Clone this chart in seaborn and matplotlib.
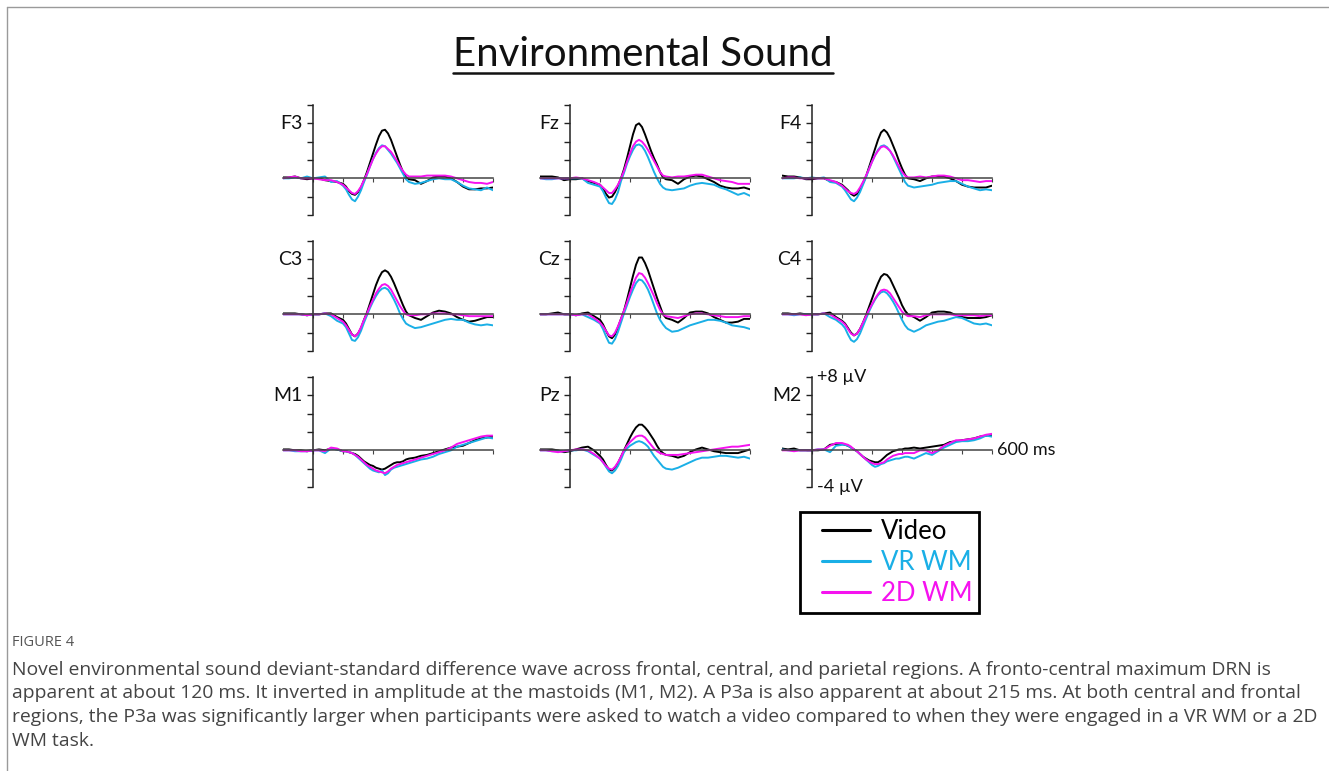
import pandas as pd
import matplotlib
matplotlib.use("Agg")
import matplotlib.pyplot as plt
from matplotlib.lines import Line2D
from matplotlib.patches import Rectangle
import seaborn as sns

# Time axis (ms): 20 ms steps, 10 ms steps around the DRN / P3a peaks
times = list(range(-100, 101, 20)) + list(range(110, 321, 10)) + list(range(340, 601, 20))
conditions = ["Video", "VR WM", "2D WM"]
colors = ["#000000", "#1aafe6", "#f512ef"]
channels = ["F3", "Fz", "F4", "C3", "Cz", "C4", "M1", "Pz", "M2"]

# Difference waves (µV), one list per channel / condition
f3_video = [0.1, 0.1, 0.2, 0.0, -0.1, 0.0, 0.0, -0.2, -0.3, -0.4, -0.6,
            -0.9, -1.4, -1.7, -1.8, -1.5, -1.0, -0.2, 0.7, 1.7, 2.7, 3.7, 4.6, 5.2, 5.3, 4.9, 4.2, 3.3, 2.4, 1.5, 0.7, 0.1, -0.1,
            -0.2, -0.6, -0.3, 0.1, 0.2, 0.2, 0.0, -0.4, -0.9, -1.2, -1.2, -1.1, -1.1, -1.0]
f3_vr = [0.0, 0.0, 0.1, 0.0, 0.2, 0.0, 0.1, 0.2, -0.4, -0.3, -0.8,
         -1.2, -1.8, -2.3, -2.5, -2.0, -1.3, -0.4, 0.4, 1.3, 2.1, 2.8, 3.3, 3.6, 3.5, 3.1, 2.7, 2.2, 1.7, 1.1, 0.5, -0.1, -0.4,
         -0.6, -0.5, -0.3, -0.1, 0.0, -0.1, -0.1, -0.4, -0.8, -1.1, -1.2, -1.3, -1.0, -1.3]
f3_2d = [0.0, 0.1, 0.2, 0.0, 0.0, 0.0, -0.1, -0.2, -0.2, -0.4, -0.7,
         -1.0, -1.3, -1.6, -1.7, -1.4, -0.9, -0.2, 0.5, 1.3, 2.1, 2.7, 3.2, 3.5, 3.5, 3.2, 2.9, 2.4, 1.9, 1.3, 0.8, 0.4, 0.2,
         0.2, 0.2, 0.3, 0.3, 0.3, 0.3, 0.2, 0.0, -0.2, -0.4, -0.5, -0.5, -0.6, -0.4]

fz_video = [0.2, 0.2, 0.2, 0.1, -0.2, -0.1, -0.1, 0.0, -0.3, -0.5, -0.7,
            -1.1, -1.7, -2.1, -2.0, -1.5, -0.8, 0.0, 1.0, 2.2, 3.5, 4.8, 5.8, 6.0, 5.6, 4.8, 3.9, 3.0, 2.2, 1.5, 0.7, 0.1, -0.1,
            -0.2, -0.6, -0.1, 0.2, 0.3, 0.2, -0.1, -0.4, -0.8, -1.0, -1.1, -1.1, -1.0, -1.2]
fz_vr = [0.0, -0.1, -0.1, 0.0, 0.0, 0.0, 0.0, 0.0, -0.5, -0.7, -0.9,
         -1.4, -2.1, -2.7, -2.8, -2.3, -1.5, -0.3, 0.6, 1.6, 2.4, 3.1, 3.6, 3.7, 3.5, 3.0, 2.3, 1.5, 0.7, 0.0, -0.6, -1.0, -1.2,
         -1.3, -1.2, -1.1, -0.8, -0.6, -0.5, -0.6, -0.7, -1.0, -1.2, -1.5, -1.8, -1.6, -1.9]
fz_2d = [0.0, 0.0, 0.0, 0.0, 0.0, 0.0, 0.1, 0.0, -0.2, -0.4, -0.7,
         -1.0, -1.3, -1.6, -1.6, -1.2, -0.7, 0.0, 0.8, 1.8, 2.7, 3.5, 4.0, 4.2, 4.0, 3.6, 3.1, 2.5, 1.9, 1.3, 0.7, 0.3, 0.2,
         0.1, 0.2, 0.2, 0.3, 0.4, 0.4, 0.2, 0.0, -0.2, -0.3, -0.4, -0.6, -0.6, -0.6]

f4_video = [0.3, 0.2, 0.2, 0.1, -0.1, -0.1, 0.0, 0.0, -0.3, -0.4, -0.7,
            -1.0, -1.3, -1.7, -1.9, -1.7, -1.2, -0.5, 0.2, 1.2, 2.2, 3.2, 4.2, 5.0, 5.3, 5.0, 4.4, 3.6, 2.8, 1.9, 1.1, 0.4, 0.0,
            -0.1, -0.3, 0.0, 0.2, 0.2, 0.2, 0.0, -0.3, -0.7, -0.9, -1.0, -1.0, -1.0, -0.8]
f4_vr = [0.0, 0.0, 0.0, 0.1, 0.0, 0.1, 0.0, 0.1, -0.4, -0.5, -0.9,
         -1.3, -1.8, -2.3, -2.5, -2.1, -1.5, -0.7, 0.1, 1.0, 1.8, 2.5, 3.1, 3.5, 3.6, 3.4, 3.0, 2.4, 1.7, 1.0, 0.3, -0.4, -0.8,
         -1.0, -0.9, -0.8, -0.7, -0.5, -0.4, -0.3, -0.3, -0.6, -0.9, -1.1, -1.3, -1.2, -1.3]
f4_2d = [0.0, 0.1, 0.1, 0.0, 0.0, 0.0, 0.0, 0.0, -0.2, -0.4, -0.8,
         -1.1, -1.4, -1.6, -1.7, -1.5, -1.0, -0.4, 0.3, 1.0, 1.8, 2.5, 3.0, 3.4, 3.5, 3.3, 3.0, 2.5, 1.9, 1.3, 0.7, 0.3, 0.1,
         0.1, 0.2, 0.1, 0.2, 0.3, 0.3, 0.2, 0.0, -0.2, -0.2, -0.3, -0.4, -0.3, -0.3]

c3_video = [0.1, 0.1, 0.1, 0.0, -0.1, 0.0, 0.0, 0.1, 0.1, -0.3, -0.6,
            -1.0, -1.6, -2.2, -2.4, -2.1, -1.5, -0.6, 0.2, 1.2, 2.2, 3.2, 4.0, 4.6, 4.8, 4.6, 4.1, 3.4, 2.6, 1.8, 1.0, 0.3, -0.1,
            -0.4, -0.6, -0.2, 0.2, 0.4, 0.3, 0.1, -0.3, -0.6, -0.8, -0.7, -0.5, -0.3, -0.3]
c3_vr = [0.0, 0.0, 0.0, 0.0, -0.1, 0.0, 0.0, 0.1, -0.2, -0.7, -1.0,
         -1.4, -2.1, -2.8, -2.9, -2.5, -1.8, -0.9, -0.1, 0.7, 1.4, 2.0, 2.5, 2.8, 2.9, 2.7, 2.2, 1.6, 0.9, 0.1, -0.5, -1.0, -1.2,
         -1.5, -1.4, -1.2, -1.0, -0.8, -0.6, -0.5, -0.6, -0.6, -0.9, -1.1, -1.2, -1.1, -1.2]
c3_2d = [0.0, 0.0, 0.0, 0.0, -0.1, 0.0, 0.0, 0.1, 0.0, -0.4, -0.8,
         -1.2, -1.7, -2.2, -2.4, -2.1, -1.4, -0.6, 0.1, 0.9, 1.6, 2.3, 2.8, 3.2, 3.3, 3.1, 2.7, 2.1, 1.5, 0.9, 0.4, 0.0, -0.1,
         -0.1, 0.0, 0.0, 0.1, 0.1, 0.1, 0.0, 0.0, -0.1, -0.2, -0.2, -0.2, -0.2, -0.2]

cz_video = [0.0, 0.0, 0.1, 0.2, 0.0, 0.0, -0.1, 0.1, 0.2, -0.2, -0.6,
            -1.1, -1.8, -2.4, -2.6, -2.2, -1.4, -0.5, 0.4, 1.6, 2.9, 4.2, 5.4, 6.2, 6.2, 5.6, 4.8, 3.8, 2.8, 1.8, 0.9, 0.0, -0.4,
            -0.6, -0.9, -0.4, 0.2, 0.3, 0.3, 0.1, -0.3, -0.6, -0.9, -0.9, -0.8, -0.5, -0.5]
cz_vr = [0.0, 0.0, 0.0, 0.0, 0.0, 0.0, -0.1, 0.0, -0.3, -0.6, -1.0,
         -1.6, -2.4, -3.1, -3.2, -2.7, -1.9, -0.9, 0.1, 1.0, 1.9, 2.7, 3.4, 3.8, 3.7, 3.3, 2.7, 1.9, 1.0, 0.1, -0.6, -1.1, -1.5,
         -1.9, -1.8, -1.5, -1.2, -1.0, -0.8, -0.6, -0.6, -0.7, -0.9, -1.2, -1.3, -1.4, -1.6]
cz_2d = [0.0, 0.0, 0.0, 0.0, 0.0, 0.0, -0.1, 0.0, 0.0, -0.4, -0.9,
         -1.3, -1.8, -2.3, -2.4, -2.0, -1.3, -0.5, 0.4, 1.3, 2.3, 3.2, 4.0, 4.5, 4.4, 4.0, 3.4, 2.7, 2.0, 1.2, 0.5, 0.0, -0.2,
         -0.3, -0.4, -0.2, 0.0, 0.1, 0.1, 0.0, -0.1, -0.2, -0.3, -0.3, -0.3, -0.2, -0.2]

c4_video = [0.1, 0.1, 0.0, 0.1, 0.0, 0.0, 0.0, 0.1, 0.2, -0.3, -0.7,
            -1.0, -1.5, -2.0, -2.3, -2.1, -1.6, -0.9, -0.1, 0.8, 1.7, 2.6, 3.4, 4.1, 4.4, 4.3, 3.9, 3.2, 2.5, 1.8, 1.0, 0.4, 0.0,
            -0.3, -0.7, -0.3, 0.2, 0.3, 0.3, 0.2, -0.1, -0.3, -0.4, -0.4, -0.4, -0.3, -0.1]
c4_vr = [0.0, 0.0, -0.1, 0.0, 0.0, 0.0, 0.0, 0.1, -0.3, -0.6, -1.1,
         -1.5, -2.2, -2.8, -3.0, -2.7, -2.1, -1.3, -0.5, 0.3, 1.0, 1.6, 2.1, 2.4, 2.5, 2.3, 1.9, 1.4, 0.8, 0.1, -0.6, -1.2, -1.6,
         -1.9, -1.6, -1.2, -1.0, -0.8, -0.7, -0.5, -0.3, -0.4, -0.7, -1.0, -1.1, -1.0, -1.2]
c4_2d = [0.0, 0.0, 0.0, 0.0, -0.1, 0.0, 0.0, 0.1, 0.0, -0.4, -0.8,
         -1.1, -1.6, -2.1, -2.3, -2.1, -1.6, -0.9, -0.2, 0.5, 1.1, 1.7, 2.2, 2.6, 2.7, 2.6, 2.3, 1.8, 1.3, 0.8, 0.3, 0.0, -0.2,
         -0.2, -0.3, -0.1, 0.0, 0.0, 0.0, 0.0, -0.1, -0.1, -0.1, -0.1, -0.2, -0.1, -0.1]

m1_video = [0.1, 0.1, 0.0, 0.0, -0.1, 0.0, 0.1, 0.0, 0.2, 0.1, -0.1,
            -0.1, -0.2, -0.3, -0.4, -0.6, -0.9, -1.2, -1.4, -1.6, -1.7, -1.9, -2.0, -2.1, -2.0, -1.8, -1.6, -1.4, -1.3, -1.3, -1.2, -1.0, -0.9,
            -0.8, -0.6, -0.5, -0.3, -0.1, 0.1, 0.3, 0.4, 0.5, 0.8, 1.1, 1.3, 1.4, 1.5]
m1_vr = [0.0, 0.0, -0.1, -0.1, -0.1, 0.0, 0.0, -0.3, 0.2, 0.1, -0.1,
         -0.1, -0.2, -0.3, -0.5, -0.8, -1.1, -1.4, -1.7, -2.0, -2.2, -2.3, -2.4, -2.2, -2.7, -2.5, -2.1, -1.9, -1.8, -1.7, -1.6, -1.5, -1.4,
         -1.2, -1.0, -0.9, -0.7, -0.4, -0.2, 0.0, 0.4, 0.6, 0.8, 1.0, 1.2, 1.4, 1.3]
m1_2d = [0.0, 0.0, 0.0, -0.1, -0.1, 0.0, 0.0, -0.1, 0.3, 0.2, -0.1,
         -0.1, -0.2, -0.3, -0.5, -0.7, -1.0, -1.3, -1.6, -1.8, -2.0, -2.2, -2.3, -2.4, -2.5, -2.3, -2.0, -1.8, -1.6, -1.5, -1.4, -1.3, -1.2,
         -1.0, -0.8, -0.6, -0.4, -0.2, 0.0, 0.3, 0.7, 0.9, 1.1, 1.3, 1.5, 1.6, 1.6]

pz_video = [0.1, 0.1, 0.1, 0.0, -0.2, -0.1, 0.1, 0.3, 0.4, 0.0, -0.6,
            -1.0, -1.6, -2.1, -2.2, -1.9, -1.4, -0.7, 0.0, 0.7, 1.4, 2.0, 2.5, 2.8, 2.8, 2.5, 2.1, 1.6, 1.1, 0.5, 0.0, -0.3, -0.5,
            -0.6, -0.8, -0.6, -0.2, 0.1, 0.3, 0.1, -0.1, -0.2, -0.3, -0.3, -0.3, -0.1, 0.1]
pz_vr = [0.0, 0.0, -0.1, -0.1, -0.1, 0.0, 0.0, 0.1, -0.1, -0.5, -0.9,
         -1.3, -1.8, -2.3, -2.5, -2.2, -1.7, -1.0, -0.2, 0.2, 0.5, 0.7, 0.9, 1.0, 0.9, 0.7, 0.4, -0.1, -0.6, -1.0, -1.4, -1.8, -2.0,
         -2.1, -1.9, -1.6, -1.3, -1.0, -0.8, -0.8, -0.7, -0.6, -0.6, -0.7, -0.8, -0.7, -0.9]
pz_2d = [0.0, 0.0, -0.1, -0.2, -0.1, 0.0, 0.1, 0.1, 0.0, -0.4, -0.9,
         -1.3, -1.7, -2.0, -2.1, -1.8, -1.3, -0.7, 0.0, 0.5, 0.9, 1.2, 1.5, 1.6, 1.6, 1.4, 1.0, 0.6, 0.2, -0.1, -0.3, -0.4, -0.5,
         -0.5, -0.5, -0.4, -0.3, -0.2, -0.1, 0.0, 0.1, 0.2, 0.3, 0.4, 0.4, 0.5, 0.6]

m2_video = [0.2, 0.1, 0.2, 0.0, 0.0, 0.0, 0.0, 0.1, 0.6, 0.7, 0.7,
            0.6, 0.5, 0.3, 0.1, -0.1, -0.4, -0.7, -0.9, -1.1, -1.2, -1.3, -1.3, -1.1, -0.8, -0.5, -0.3, -0.1, 0.0, 0.1, 0.1, 0.2, 0.2,
            0.3, 0.2, 0.3, 0.4, 0.5, 0.6, 0.9, 1.0, 1.1, 1.2, 1.3, 1.5, 1.6, 1.7]
m2_vr = [0.1, 0.0, 0.0, 0.0, 0.0, 0.0, 0.1, 0.1, -0.2, 0.5, 0.6,
         0.6, 0.5, 0.3, 0.1, -0.1, -0.4, -0.7, -1.0, -1.3, -1.6, -1.8, -1.7, -1.5, -1.4, -1.2, -1.1, -1.0, -0.9, -0.9, -0.8, -0.7, -0.7,
         -0.9, -0.6, -0.3, -0.5, -0.1, 0.3, 0.6, 0.9, 1.0, 1.0, 1.1, 1.3, 1.6, 1.5]
m2_2d = [0.0, 0.0, -0.1, 0.0, 0.0, 0.0, 0.1, 0.1, 0.5, 0.8, 0.8,
         0.7, 0.6, 0.4, 0.1, -0.1, -0.4, -0.7, -1.0, -1.2, -1.4, -1.5, -1.5, -1.4, -1.3, -1.0, -0.8, -0.6, -0.5, -0.4, -0.4, -0.3, -0.3,
         -0.3, 0.0, 0.0, -0.3, 0.0, 0.5, 0.8, 1.1, 1.1, 1.2, 1.3, 1.5, 1.7, 1.8]

waves = {
    "F3": [f3_video, f3_vr, f3_2d], "Fz": [fz_video, fz_vr, fz_2d], "F4": [f4_video, f4_vr, f4_2d],
    "C3": [c3_video, c3_vr, c3_2d], "Cz": [cz_video, cz_vr, cz_2d], "C4": [c4_video, c4_vr, c4_2d],
    "M1": [m1_video, m1_vr, m1_2d], "Pz": [pz_video, pz_vr, pz_2d], "M2": [m2_video, m2_vr, m2_2d],
}

# long format table
rows = []
for ch in channels:
    for cond, vals in zip(conditions, waves[ch]):
        assert len(vals) == len(times), (ch, cond)
        for t, v in zip(times, vals):
            rows.append({"channel": ch, "condition": cond, "time": t, "uV": v})
df = pd.DataFrame(rows)

sns.set_style("white")
plt.rcParams["font.family"] = ["Lato", "DejaVu Sans"]

W, H = 1329, 771
fig = plt.figure(figsize=(W / 100, H / 100), dpi=100)

# panel layout in pixels: x of the 0 ms axis, y of the +8 uV top
col_zero = [313, 570, 812]
row_top = [105, 241, 377]
palette = dict(zip(conditions, colors))

axes = {}
for i, ch in enumerate(channels):
    r, c = divmod(i, 3)
    left = col_zero[c] - 30
    ax = fig.add_axes([left / W, 1 - (row_top[r] + 110) / H, 210 / W, 110 / H])
    sns.lineplot(data=df[df.channel == ch], x="time", y="uV", hue="condition",
                 palette=palette, hue_order=conditions, linewidth=1.4,
                 estimator=None, errorbar=None, legend=False, ax=ax)
    ax.set_xlim(-100, 600)
    ax.set_ylim(-4, 8)
    ax.set_facecolor("none")
    for s in ["top", "right"]:
        ax.spines[s].set_visible(False)
    ax.spines["left"].set_position(("data", 0))
    ax.spines["bottom"].set_position(("data", 0))
    ax.spines["left"].set_color("#222222")
    ax.spines["bottom"].set_color("#444444")
    ax.spines["left"].set_linewidth(1.1)
    ax.spines["bottom"].set_linewidth(1.1)
    ax.set_yticks(range(-4, 9, 2))
    ax.set_xticks(range(0, 601, 100))
    ax.tick_params(axis="y", direction="out", length=4, width=1.0, color="#222222",
                   labelleft=False, left=True)
    ax.tick_params(axis="x", direction="out", length=3, width=0.8, color="#444444",
                   labelbottom=False, bottom=True)
    ax.set_xlabel("")
    ax.set_ylabel("")
    ax.text(-35, 6, ch, ha="right", va="center", fontsize=14, color="#111111")
    axes[ch] = ax

# scale annotations on M2
m2 = axes["M2"]
m2.text(18, 8, "+8 µV", ha="left", va="center", fontsize=13, color="#111111", clip_on=False)
m2.text(18, -4, "-4 µV", ha="left", va="center", fontsize=13, color="#111111", clip_on=False)
m2.text(617, 0, "600 ms", ha="left", va="center", fontsize=13, color="#111111", clip_on=False)

# title with underline
title = fig.text(643 / W, 1 - 55 / H, "Environmental Sound", ha="center", va="center",
                 fontsize=29, color="#111111")
fig.canvas.draw()
bb = title.get_window_extent().transformed(fig.transFigure.inverted())
fig.add_artist(Line2D([bb.x0, bb.x1], [1 - 73 / H] * 2, color="#111111", lw=1.8,
                      transform=fig.transFigure))

# legend: entries from the library, square frame drawn round them
handles = [Line2D([], [], color=col, lw=2.2, label=cond) for cond, col in zip(conditions, colors)]
leg = fig.legend(handles=handles, loc="upper left", bbox_to_anchor=(822 / W, 1 - 519 / H),
                 fontsize=18.5, frameon=False, handlelength=1.85, handletextpad=0.45,
                 borderpad=0, labelspacing=0.23, borderaxespad=0)
for txt, col in zip(leg.get_texts(), colors):
    txt.set_color(col)
fig.add_artist(Rectangle((800 / W, 1 - 613 / H), 179 / W, 101 / H, transform=fig.transFigure,
                         fill=False, edgecolor="black", lw=2))

# page border
fig.add_artist(Line2D([7 / W, 7 / W], [0, 1 - 7 / H], color="#9a9a9a", lw=1, transform=fig.transFigure))
fig.add_artist(Line2D([7 / W, 1], [1 - 7 / H] * 2, color="#9a9a9a", lw=1, transform=fig.transFigure))

# caption
fig.text(12 / W, 1 - 643 / H, "FIGURE 4", ha="left", va="center", fontsize=10.5,
         color="#555555", family=["Open Sans", "DejaVu Sans"])
caption = [
    "Novel environmental sound deviant-standard difference wave across frontal, central, and parietal regions. A fronto-central maximum DRN is",
    "apparent at about 120 ms. It inverted in amplitude at the mastoids (M1, M2). A P3a is also apparent at about 215 ms. At both central and frontal",
    "regions, the P3a was significantly larger when participants were asked to watch a video compared to when they were engaged in a VR WM or a 2D",
    "WM task.",
]
for k, line in enumerate(caption):
    fig.text(12 / W, 1 - (670 + 23.5 * k) / H, line, ha="left", va="center", fontsize=13.9,
             color="#444444", family=["Open Sans", "DejaVu Sans"])

fig.savefig("out.png", dpi=100, facecolor="white")
